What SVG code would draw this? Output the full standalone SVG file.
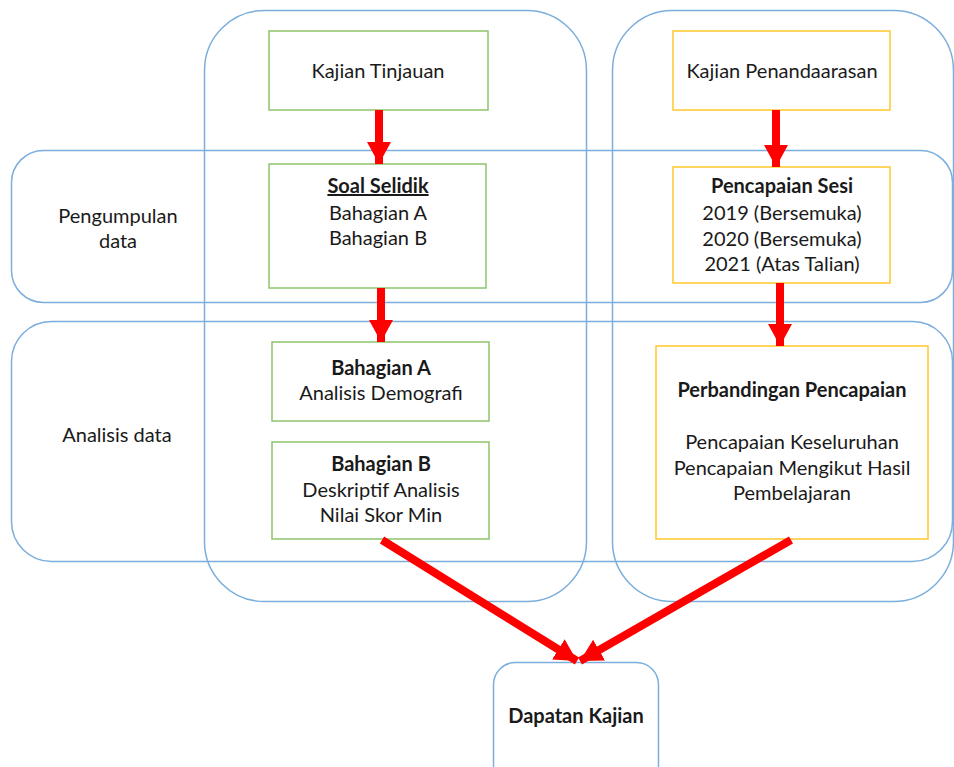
<svg xmlns="http://www.w3.org/2000/svg" width="954" height="767" viewBox="0 0 954 767">
<style>
  .lane{fill:none;stroke:#7BAEDD;stroke-width:1.5}
  .g{fill:#fff;stroke:#8CC46A;stroke-width:1.5}
  .y{fill:#fff;stroke:#FFC72C;stroke-width:1.5}
  text{font-family:Lato,"Open Sans","Liberation Sans",sans-serif;font-size:20px;fill:#1a1a1a;text-anchor:middle}
  .b{font-weight:bold}
  .arr{stroke:#FF0000;stroke-width:8;fill:none}
</style>
<defs>
  <marker id="ah" markerUnits="userSpaceOnUse" markerWidth="24" markerHeight="26" refX="22" refY="12" orient="auto">
    <path d="M0,0 L22,12 L0,24 Z" fill="#FF0000"/>
  </marker>
</defs>
<rect width="954" height="767" fill="#fff"/>
<g id="lanes">
  <rect id="col-left" class="lane" x="204.5" y="10.5" width="382" height="591" rx="60"/>
  <rect id="col-right" class="lane" x="612.5" y="10.5" width="341" height="591" rx="60"/>
  <rect id="row-pengumpulan" class="lane" x="11.5" y="150.5" width="941" height="152" rx="32"/>
  <rect id="row-analisis" class="lane" x="11.5" y="321.5" width="941" height="240" rx="40"/>
</g>
<g id="label-pengumpulan"><text x="118" y="223">Pengumpulan</text><text x="118" y="248">data</text></g>
<g id="label-analisis"><text x="117" y="442">Analisis data</text></g>
<g id="kajian-tinjauan"><rect class="g" x="269" y="31" width="219" height="79"/><text x="378" y="78">Kajian Tinjauan</text></g>
<g id="soal-selidik"><rect class="g" x="269" y="164" width="217" height="124"/>
  <text x="378" y="193" class="b" text-decoration="underline">Soal Selidik</text>
  <text x="378" y="220">Bahagian A</text><text x="378" y="245">Bahagian B</text></g>
<g id="bahagian-a"><rect class="g" x="272" y="342" width="217" height="79"/>
  <text x="381" y="375" class="b">Bahagian A</text><text x="381" y="400">Analisis Demografi</text></g>
<g id="bahagian-b"><rect class="g" x="272" y="442" width="217" height="97"/>
  <text x="381" y="471" class="b">Bahagian B</text><text x="381" y="497">Deskriptif Analisis</text><text x="381" y="522">Nilai Skor Min</text></g>
<g id="kajian-penandaarasan"><rect class="y" x="673" y="31" width="217" height="79"/><text x="782" y="78">Kajian Penandaarasan</text></g>
<g id="pencapaian-sesi"><rect class="y" x="673" y="167" width="217" height="116"/>
  <text x="782" y="193" class="b">Pencapaian Sesi</text>
  <text x="782" y="220">2019 (Bersemuka)</text><text x="782" y="246">2020 (Bersemuka)</text><text x="782" y="271">2021 (Atas Talian)</text></g>
<g id="perbandingan"><rect class="y" x="656" y="346" width="272" height="193"/>
  <text x="792" y="397" class="b">Perbandingan Pencapaian</text>
  <text x="792" y="449">Pencapaian Keseluruhan</text><text x="792" y="475">Pencapaian Mengikut Hasil</text><text x="792" y="500">Pembelajaran</text></g>
<g id="dapatan"><rect class="lane" x="493.5" y="662.5" width="165" height="130" rx="22"/>
  <text x="576" y="723" class="b">Dapatan Kajian</text></g>
<g id="connectors">
  <line class="arr" x1="379" y1="110" x2="379" y2="164" marker-end="url(#ah)"/>
  <line class="arr" x1="381" y1="288" x2="381" y2="342" marker-end="url(#ah)"/>
  <line class="arr" x1="776" y1="110" x2="776" y2="167" marker-end="url(#ah)"/>
  <line class="arr" x1="780" y1="283" x2="780" y2="346" marker-end="url(#ah)"/>
  <line class="arr" x1="382" y1="540" x2="577" y2="661" marker-end="url(#ah)"/>
  <line class="arr" x1="791" y1="540" x2="580" y2="661" marker-end="url(#ah)"/>
</g>
</svg>
